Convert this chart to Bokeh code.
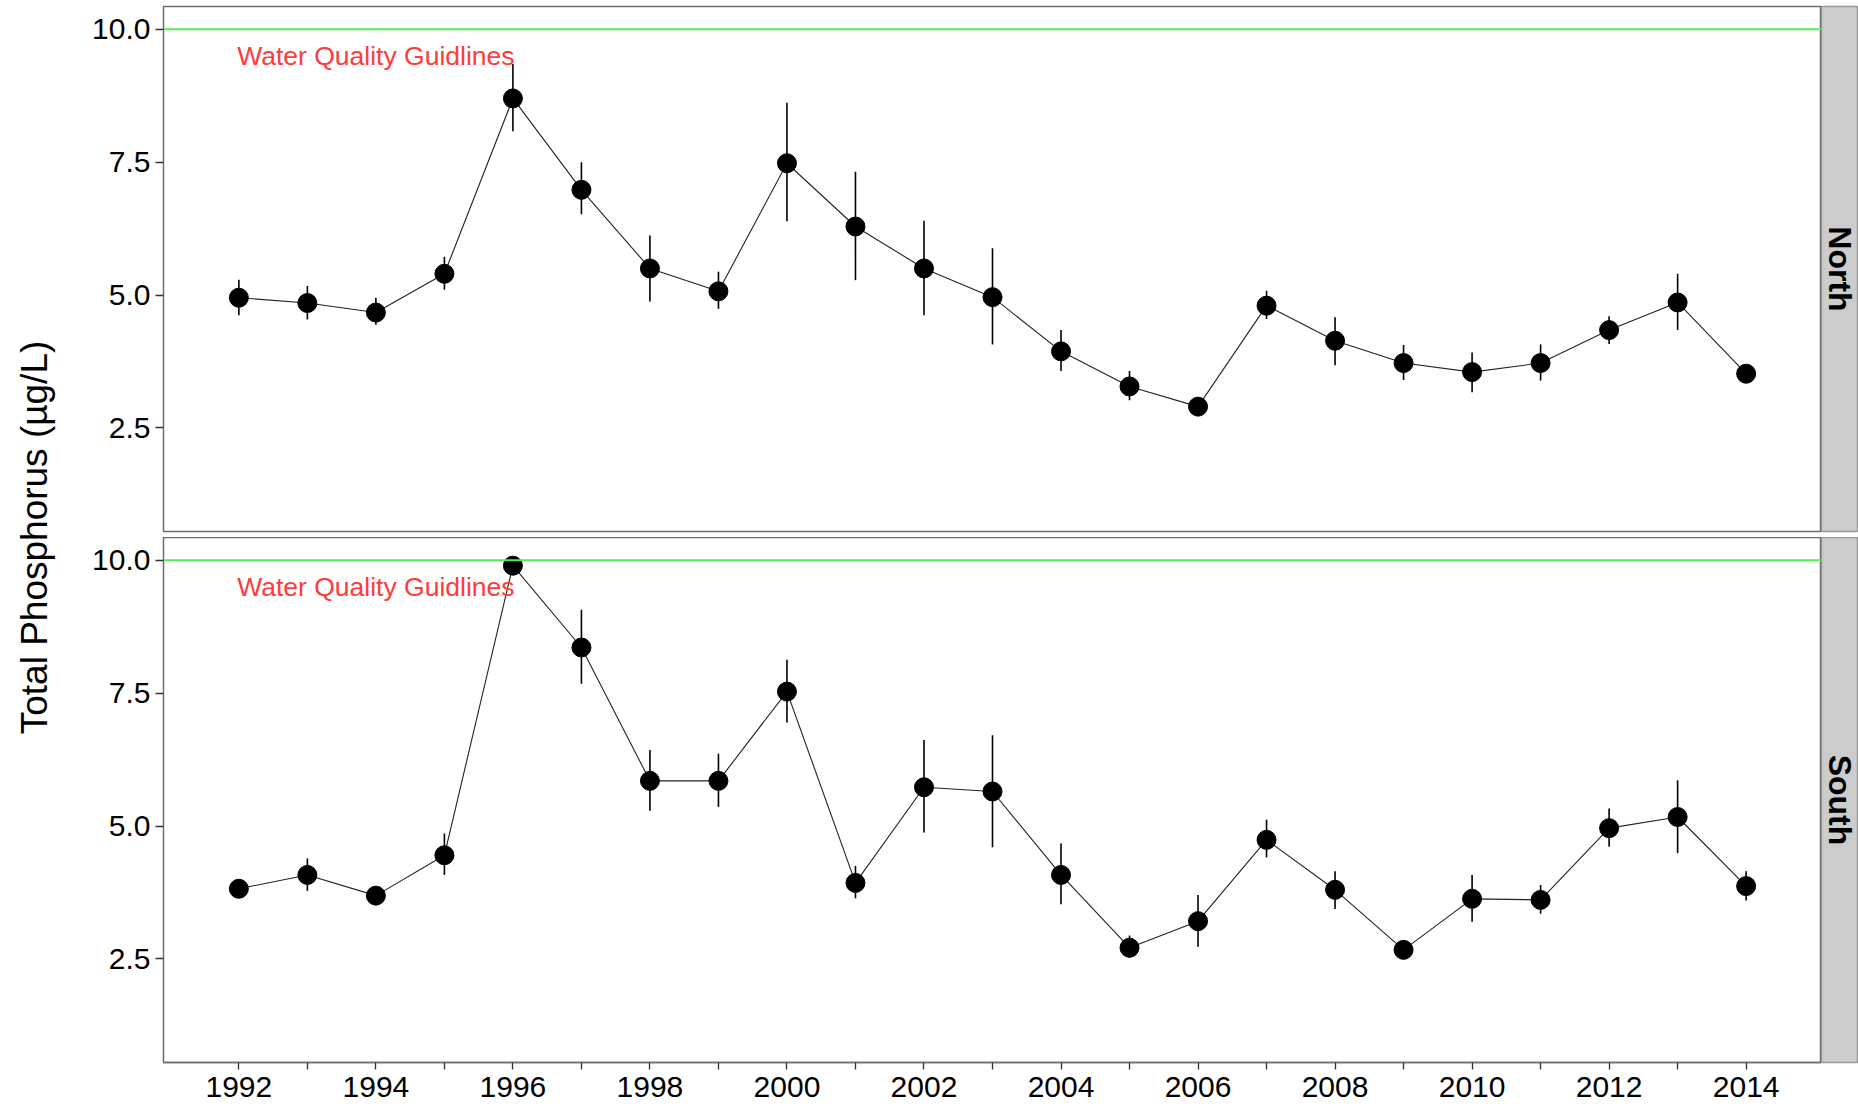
import math
from bokeh.plotting import figure
from bokeh.layouts import row, column
from bokeh.models import Range1d, FixedTicker, NumeralTickFormatter, Span, ColumnDataSource
from bokeh.core.properties import value
from bokeh.embed import file_html
from bokeh.resources import INLINE

# ---------------- data ----------------
years = [1992, 1993, 1994, 1995, 1996, 1997, 1998, 1999, 2000, 2001, 2002, 2003,
         2004, 2005, 2006, 2007, 2008, 2009, 2010, 2011, 2012, 2013, 2014]

north = [4.95, 4.85, 4.67, 5.40, 8.70, 6.98, 5.50, 5.07, 7.48, 6.29, 5.50, 4.96,
         3.94, 3.28, 2.90, 4.80, 4.14, 3.72, 3.55, 3.72, 4.34, 4.86, 3.52]
north_low = [4.62, 4.54, 4.44, 5.10, 8.08, 6.52, 4.88, 4.74, 6.39, 5.28, 4.62, 4.07,
             3.57, 3.02, 2.85, 4.55, 3.68, 3.40, 3.17, 3.39, 4.08, 4.34, 3.47]
north_high = [5.29, 5.17, 4.95, 5.72, 9.35, 7.50, 6.12, 5.44, 8.62, 7.32, 6.40, 5.88,
              4.34, 3.57, 2.95, 5.08, 4.58, 4.06, 3.92, 4.07, 4.60, 5.40, 3.57]

south = [3.82, 4.08, 3.69, 4.45, 9.90, 8.36, 5.85, 5.85, 7.53, 3.93, 5.73, 5.65,
         4.08, 2.71, 3.21, 4.74, 3.80, 2.67, 3.63, 3.61, 4.96, 5.17, 3.87]
south_low = [3.75, 3.78, 3.62, 4.08, 9.85, 7.68, 5.29, 5.36, 6.95, 3.64, 4.88, 4.60,
             3.53, 2.52, 2.73, 4.41, 3.44, 2.62, 3.20, 3.35, 4.61, 4.49, 3.60]
south_high = [3.89, 4.39, 3.76, 4.86, 9.95, 9.07, 6.43, 6.36, 8.13, 4.25, 6.62, 6.71,
              4.67, 2.94, 3.70, 5.12, 4.15, 2.72, 4.08, 3.89, 5.33, 5.86, 4.15]

panels = ["North", "South"]
y_ticks = [2.5, 5.0, 7.5, 10.0]
x_major_ticks = [1992, 1994, 1996, 1998, 2000, 2002, 2004, 2006, 2008, 2010, 2012, 2014]
x_minor_ticks = [1993, 1995, 1997, 1999, 2001, 2003, 2005, 2007, 2009, 2011, 2013]
guideline = 10.0
guideline_label = "Water Quality Guidlines"
y_title = "Total Phosphorus (\u00b5g/L)"

# ---------------- styles ----------------
FONT = "Liberation Sans"
BORDER = "#6e6e6e"
STRIP_FILL = "#cccccc"
STRIP_LINE = "#9a9a9a"
GREEN = "#55ee55"
RED = "#ff3b3b"

TITLE_W = 60
LEFT_B = 103
FRAME_W = 1658
STRIP_W = 37
FRAME_H = 525
TOP_B1, BOT_B1 = 6, 6
TOP_B2, BOT_B2 = 0, 48
H1 = TOP_B1 + FRAME_H + BOT_B1
H2 = TOP_B2 + FRAME_H + BOT_B2
TOTAL_H = H1 + H2

x_range = Range1d(1990.9, 2015.1)


def make_panel(vals, lo, hi, show_x, height, top_b, bot_b):
    p = figure(width=LEFT_B + FRAME_W, height=height, output_backend="svg",
               toolbar_location=None, x_range=x_range, y_range=Range1d(0.55, 10.43),
               x_axis_location="below" if show_x else None,
               min_border_left=LEFT_B, min_border_right=0, min_border_top=top_b,
               min_border_bottom=bot_b)
    p.grid.visible = False
    p.background_fill_color = "white"
    p.border_fill_color = "white"
    p.outline_line_color = BORDER
    p.outline_line_width = 1.5

    src = ColumnDataSource(dict(x=years, y=vals, lo=lo, hi=hi))
    p.add_layout(Span(location=guideline, dimension="width", line_color=GREEN, line_width=2))
    p.segment(x0="x", y0="lo", x1="x", y1="hi", source=src, line_color="black", line_width=1.6)
    p.line(x="x", y="y", source=src, line_color="#222222", line_width=1.1)
    p.scatter(x="x", y="y", source=src, size=19, fill_color="black", line_color="black")
    p.text(x=[1994], y=[9.5], text=[guideline_label], text_align="center",
           text_baseline="middle", text_font=value(FONT), text_font_size="26.5px",
           text_color=RED)

    ya = p.yaxis[0]
    ya.ticker = FixedTicker(ticks=y_ticks)
    ya.formatter = NumeralTickFormatter(format="0.0")
    ya.axis_line_color = None
    ya.major_tick_in = 0
    ya.major_tick_out = 8
    ya.major_tick_line_color = "#333333"
    ya.major_tick_line_width = 1.3
    ya.minor_tick_line_color = None
    ya.major_label_text_font = FONT
    ya.major_label_text_font_size = "30px"
    ya.major_label_text_color = "black"
    ya.major_label_standoff = 5

    if show_x:
        xa = p.xaxis[0]
        xa.ticker = FixedTicker(ticks=x_major_ticks, minor_ticks=x_minor_ticks)
        xa.axis_line_color = BORDER
        xa.axis_line_width = 1.5
        xa.major_tick_in = 0
        xa.major_tick_out = 7
        xa.minor_tick_in = 0
        xa.minor_tick_out = 7
        xa.major_tick_line_color = "#333333"
        xa.minor_tick_line_color = "#333333"
        xa.major_tick_line_width = 1.3
        xa.minor_tick_line_width = 1.3
        xa.major_label_text_font = FONT
        xa.major_label_text_font_size = "30px"
        xa.major_label_text_color = "black"
        xa.major_label_standoff = 7
    return p


def make_strip(label, height, top_b, bot_b):
    s = figure(width=STRIP_W, height=height, output_backend="svg", toolbar_location=None,
               x_range=Range1d(-1, 1), y_range=Range1d(-1, 1),
               x_axis_location=None, y_axis_location=None,
               min_border_left=0, min_border_right=0,
               min_border_top=top_b, min_border_bottom=bot_b)
    s.grid.visible = False
    s.background_fill_color = STRIP_FILL
    s.border_fill_color = "white"
    s.outline_line_color = STRIP_LINE
    s.outline_line_width = 1.5
    s.text(x=[0.0], y=[0], text=[label], angle=-math.pi / 2, text_align="center",
           text_baseline="middle", text_font=value(FONT), text_font_style="bold",
           text_font_size="32px", text_color="black")
    return s


p1 = make_panel(north, north_low, north_high, False, H1, TOP_B1, BOT_B1)
p2 = make_panel(south, south_low, south_high, True, H2, TOP_B2, BOT_B2)
s1 = make_strip(panels[0], H1, TOP_B1, BOT_B1)
s2 = make_strip(panels[1], H2, TOP_B2, BOT_B2)

yt = figure(width=TITLE_W, height=TOTAL_H, output_backend="svg", toolbar_location=None,
            x_range=Range1d(0, TITLE_W), y_range=Range1d(0, TOTAL_H),
            x_axis_location=None, y_axis_location=None,
            min_border_left=0, min_border_right=0, min_border_top=0, min_border_bottom=0)
yt.grid.visible = False
yt.outline_line_color = None
yt.text(x=[34], y=[TOTAL_H - 537], text=[y_title], angle=math.pi / 2, text_align="center",
        text_baseline="middle", text_font=value(FONT), text_font_size="37px",
        text_color="black")

layout = row(yt, column(row(p1, s1), row(p2, s2)))

open("out.html", "w").write(file_html(layout, INLINE))
